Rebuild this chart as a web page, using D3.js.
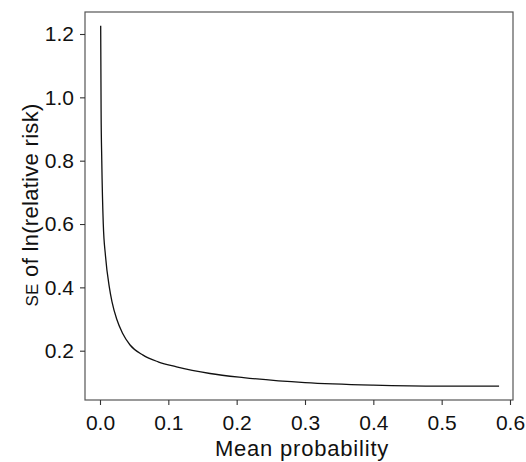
<!DOCTYPE html>
<html>
<head>
<meta charset="utf-8">
<script src="https://cdn.jsdelivr.net/npm/d3@7"></script>
<style>
  html, body { margin: 0; padding: 0; background: #fff; }
  svg { display: block; }
  text { font-family: "Liberation Sans", Arial, Helvetica, sans-serif; fill: #111; }
</style>
</head>
<body>
<svg id="chart" width="526" height="462"></svg>
<script>
// Data
const meanProbability = [0.001, 0.0016, 0.0026, 0.0048, 0.008, 0.0137, 0.0175, 0.0244, 0.033, 0.044, 0.063, 0.085, 0.112, 0.161, 0.21, 0.30, 0.40, 0.50, 0.584];
const seLnRR          = [1.226, 0.96,   0.80,   0.60,   0.50,  0.40,   0.355,  0.30,   0.255, 0.218, 0.186, 0.165, 0.149, 0.128, 0.115, 0.099, 0.091, 0.088, 0.088];
const xTicks = [0.0, 0.1, 0.2, 0.3, 0.4, 0.5, 0.6];
const yTicks = [0.2, 0.4, 0.6, 0.8, 1.0, 1.2];
const xTitle = "Mean probability";
const yTitleSmallCaps = "SE";
const yTitleRest = " of ln(relative risk)";

const svg = d3.select("#chart");
const frame = {left: 85, top: 12, right: 513, bottom: 400};

const x = d3.scaleLinear().domain([0, 0.6]).range([100, 510]);
const y = d3.scaleLinear().domain([0.2, 1.2]).range([350.7, 34]);

// frame
svg.append("rect")
  .attr("x", frame.left).attr("y", frame.top)
  .attr("width", frame.right - frame.left)
  .attr("height", frame.bottom - frame.top)
  .attr("fill", "none").attr("stroke", "#555").attr("stroke-width", 1.2);

// x axis
const xAxis = d3.axisBottom(x).tickValues(xTicks).tickFormat(d3.format(".1f"))
  .tickSize(5).tickSizeOuter(0).tickPadding(10);
const gx = svg.append("g").attr("transform", `translate(0,${frame.bottom})`).call(xAxis);
gx.select(".domain").remove();
gx.selectAll(".tick line").attr("stroke", "#333").attr("stroke-width", 1.1);
gx.selectAll(".tick text").attr("font-size", 21).attr("fill", "#111");

// y axis
const yAxis = d3.axisLeft(y).tickValues(yTicks).tickFormat(d3.format(".1f"))
  .tickSize(5).tickSizeOuter(0).tickPadding(6);
const gy = svg.append("g").attr("transform", `translate(${frame.left},0)`).call(yAxis);
gy.select(".domain").remove();
gy.selectAll(".tick line").attr("stroke", "#333").attr("stroke-width", 1.1);
gy.selectAll(".tick text").attr("font-size", 21).attr("fill", "#111");

// curve
const pts = meanProbability.map((p, i) => [p, seLnRR[i]]);
const line = d3.line().x(d => x(d[0])).y(d => y(d[1])).curve(d3.curveMonotoneX);
svg.append("path").datum(pts)
  .attr("d", line).attr("fill", "none")
  .attr("stroke", "#111").attr("stroke-width", 1.3);

// x title
svg.append("text")
  .attr("x", 302).attr("y", 456)
  .attr("text-anchor", "middle")
  .attr("font-size", 22).attr("letter-spacing", 0.8)
  .text(xTitle);

// y title
const yt = svg.append("text")
  .attr("transform", "translate(38,205) rotate(-90)")
  .attr("text-anchor", "middle")
  .attr("font-size", 22).attr("letter-spacing", 0.3);
yt.append("tspan").attr("font-size", 17).text(yTitleSmallCaps);
yt.append("tspan").text(yTitleRest);
</script>
</body>
</html>
